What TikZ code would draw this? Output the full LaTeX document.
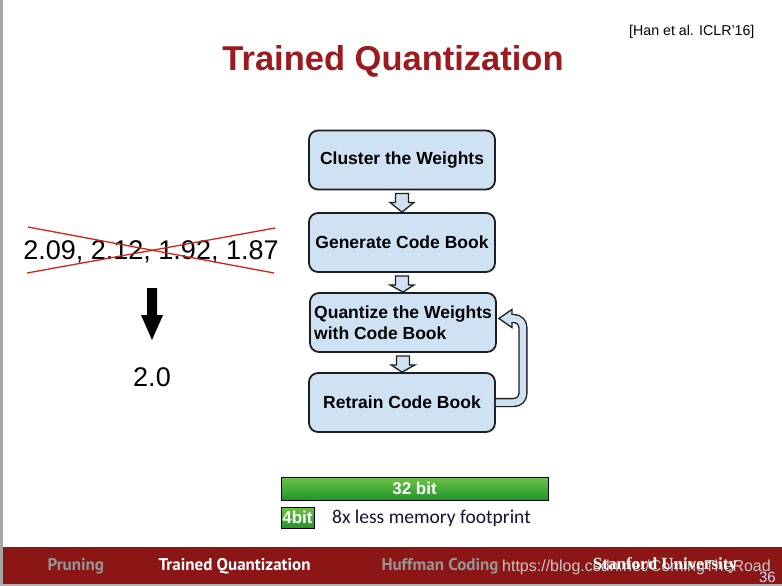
\documentclass[tikz,border=0pt]{standalone}
\usepackage{fontspec}
\setmainfont{Liberation Sans}
\newfontfamily\ptsans{PT Sans}
\newfontfamily\carlito{Carlito}
\newfontfamily\serifb{Liberation Serif}
\usetikzlibrary{calc}
\definecolor{titlered}{RGB}{155,27,30}
\definecolor{cardinal}{RGB}{140,21,21}
\definecolor{boxfill}{RGB}{207,226,243}
\definecolor{boxline}{RGB}{30,30,30}
\definecolor{xred}{RGB}{210,35,25}
\definecolor{glight}{RGB}{112,194,72}
\definecolor{gdark}{RGB}{30,150,40}
\definecolor{footgrey}{RGB}{150,150,150}
\definecolor{navytext}{RGB}{20,20,50}
\tikzset{
  flowbox/.style={draw=boxline, line width=1.8pt, fill=boxfill, rounded corners=9pt,
    minimum width=186pt, minimum height=59pt, inner sep=0pt,
    font=\fontsize{17.5}{21}\selectfont\bfseries},
  harrow/.style={draw=boxline, line width=1.3pt, fill=boxfill, line join=miter},
  greenbar/.style={draw=black, line width=0.8pt, top color=glight, bottom color=gdark,
    inner sep=0pt, text=white, font=\fontsize{17}{20}\selectfont\bfseries},
  foot/.style={font=\ptsans\fontsize{17}{20}\selectfont\bfseries, anchor=west},
}
\begin{document}
\begin{tikzpicture}[x=1pt,y=-1pt]
\useasboundingbox (0,0) rectangle (782,586);
\fill[white] (0,0) rectangle (782,586);
% left border line
\fill[gray!70] (0,0) rectangle (3,586);

% title and citation
\node[text=titlered, font=\fontsize{34.5}{40}\selectfont\bfseries] (title) at (393,61) {Trained Quantization};
\node[font=\fontsize{14.2}{17}\selectfont, anchor=west, inner sep=0pt] (cite) at (629,32) {[Han et al. ICLR'16]};

% flow boxes
\node[flowbox] (b1) at (402,160) {Cluster the Weights};
\node[flowbox] (b2) at (402,242.5) {Generate Code Book};
\node[flowbox, align=left] (b3) at (403,322.5) {Quantize the Weights\\with Code Book};
\node[flowbox] (b4) at (402,402.5) {Retrain Code Book};

% hollow down arrows
\foreach \a/\b in {b1/b2,b2/b3,b3/b4}{
  \draw[harrow] ($(\a.south)+(-6.5,3)$) -- ($(\a.south)+(6.5,3)$) -- ($(\a.south)+(6.5,12)$)
    -- ($(\a.south)+(12,12)$) -- (\b.north) -- ($(\a.south)+(-12,12)$)
    -- ($(\a.south)+(-6.5,12)$) -- cycle;
}

% feedback arrow
\draw[draw=boxline, line width=1.4pt, double=boxfill, double distance=6.5pt, rounded corners=9pt]
  (b4.east) -- ++(27,0) |- ($(b3.east)+(14,-4)$);
\draw[harrow] ($(b3.east)+(2,-4)$) -- ($(b3.east)+(15,-13)$) -- ($(b3.east)+(15,5)$) -- cycle;
\fill[boxfill] ($(b3.east)+(13.5,-7.2)$) rectangle ($(b3.east)+(17,-0.8)$);

% left: crossed values
\node[font=\fontsize{27}{32}\selectfont] (vals) at (151,252) {2.09, 2.12, 1.92, 1.87};
\coordinate (x1a) at (28,227);
\coordinate (x1b) at (274,273);
\coordinate (x2a) at (27,273);
\coordinate (x2b) at (275,228);
\draw[xred, line width=1.3pt] (x1a) -- (x1b);
\draw[xred, line width=1.3pt] (x2a) -- (x2b);
\node[font=\fontsize{27}{32}\selectfont] (res) at (152,377) {2.0};
\coordinate (arrtop) at (152,288);
\fill[black] ($(arrtop)+(-5,0)$) -- ($(arrtop)+(5,0)$) -- ($(arrtop)+(5,27)$) -- ($(arrtop)+(11,27)$)
  -- ($(arrtop)+(0,52)$) -- ($(arrtop)+(-11,27)$) -- ($(arrtop)+(-5,27)$) -- cycle;

% memory bars
\node[greenbar, minimum width=267pt, minimum height=23pt] (b32) at (414.5,488.5) {32 bit};
\node[greenbar, minimum width=33pt, minimum height=21pt] (b4bit) at (297.5,517.5) {4bit};
\node[font=\carlito\fontsize{19.5}{23}\selectfont, text=navytext, anchor=west, inner sep=0pt] (mem) at (332,518) {8x less memory footprint};

% footer
\fill[cardinal] (3,547) rectangle (782,584);
\fill[gray!60] (0,584) rectangle (782,586);
\node[foot, text=footgrey] (f1) at (44,566) {Pruning};
\node[foot, text=white] (f2) at (155,566) {Trained Quantization};
\node[foot, text=footgrey] (f3) at (378,566) {Huffman Coding};
\node[font=\fontsize{16}{19}\selectfont, text=gray!45, anchor=west, inner sep=0pt] (wm) at (502,567) {https://blog.csdn.net/ComingTheRoad};
\node[font=\serifb\fontsize{17}{20}\selectfont\bfseries, text=white] (su) at (665,565) {Stanford University};
\node[font=\fontsize{15}{17}\selectfont, text=blue!15, anchor=east, inner sep=0pt] (pg) at (776,577) {36};
\end{tikzpicture}
\end{document}
